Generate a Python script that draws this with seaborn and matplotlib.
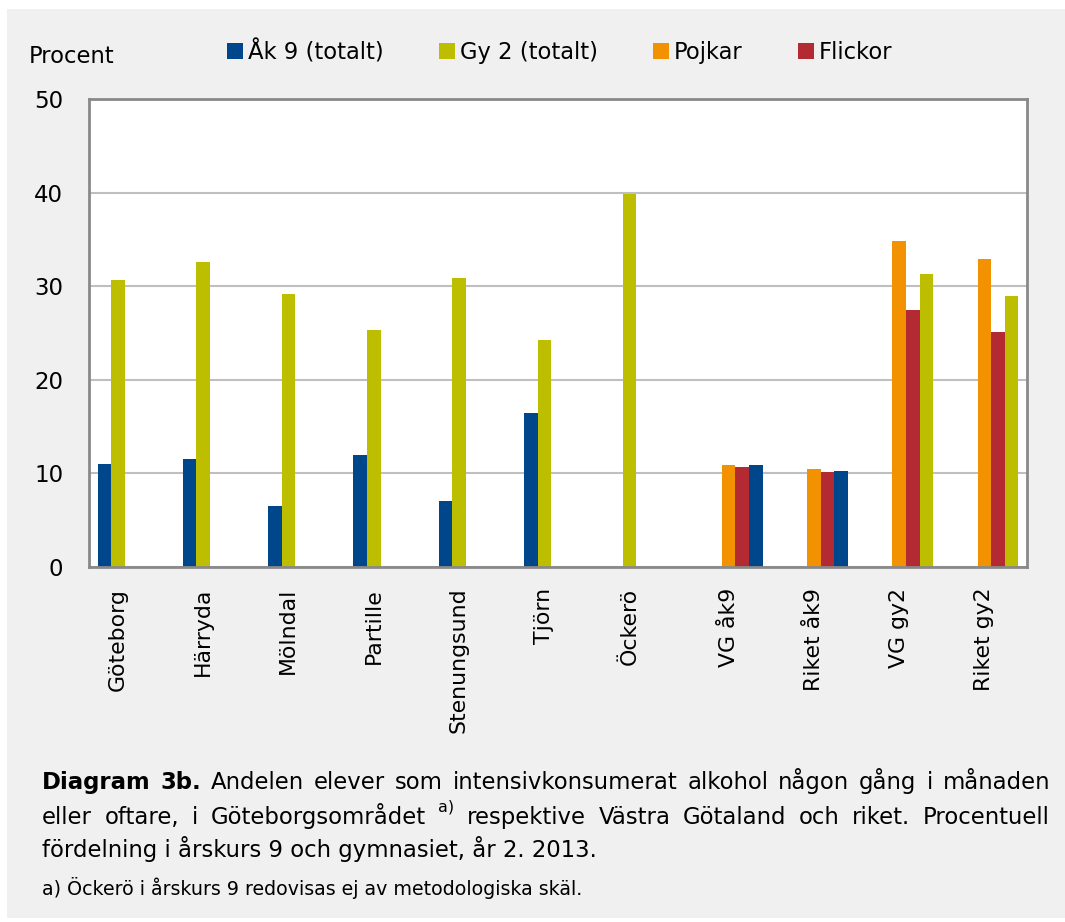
import numpy as np
import pandas as pd
import seaborn as sns
import matplotlib
matplotlib.use("Agg")
import matplotlib.pyplot as plt
import matplotlib.transforms as mtrans
from matplotlib.patches import Patch, Rectangle

# ---------------- data ----------------
categories = ["Göteborg", "Härryda", "Mölndal", "Partille", "Stenungsund", "Tjörn",
              "Öckerö", "VG åk9", "Riket åk9", "VG gy2", "Riket gy2"]
nan = np.nan
ak9_totalt = [11.0, 11.5, 6.5, 12.0, 7.1, 16.4, nan, nan, nan, nan, nan]
gy2_totalt = [30.7, 32.6, 29.2, 25.3, 30.9, 24.2, 39.9, nan, nan, nan, nan]
pojkar = [nan, nan, nan, nan, nan, nan, nan, 10.9, 10.5, 34.8, 32.9]
flickor = [nan, nan, nan, nan, nan, nan, nan, 10.7, 10.1, 27.5, 25.1]
region_totalt = [nan, nan, nan, nan, nan, nan, nan, 10.9, 10.3, 31.3, 29.0]

series_names = ["Åk 9 (totalt)", "Gy 2 (totalt)", "Pojkar", "Flickor", "Totalt"]
legend_labels = ["Åk 9 (totalt)", "Gy 2 (totalt)", "Pojkar", "Flickor"]
y_ticks = [0, 10, 20, 30, 40, 50]

BLUE = "#00468A"
OLIVE = "#BEBE00"
ORANGE = "#F39200"
RED = "#B32A32"
palette = {"Åk 9 (totalt)": BLUE, "Gy 2 (totalt)": OLIVE, "Pojkar": ORANGE,
           "Flickor": RED, "Totalt": BLUE}

rows = []
for name, vals in zip(series_names, [ak9_totalt, gy2_totalt, pojkar, flickor, region_totalt]):
    for c, v in zip(categories, vals):
        if not np.isnan(v):
            rows.append({"Område": c, "Serie": name, "Procent": v})
df = pd.DataFrame(rows)

# ---------------- figure ----------------
sns.set_style("white")
plt.rcParams["font.family"] = ["DejaVu Sans"]
plt.rcParams["text.color"] = "black"
plt.rcParams["xtick.color"] = "black"
plt.rcParams["ytick.color"] = "black"
plt.rcParams["axes.labelcolor"] = "black"

W, H = 1065, 922
fig = plt.figure(figsize=(W / 100, H / 100), dpi=100, facecolor="white")
fig.add_artist(Rectangle((7 / W, 1 - 918 / H), 1, (918 - 9) / H, transform=fig.transFigure,
                         facecolor="#F0F0F0", edgecolor="none", zorder=-10))

ax = fig.add_axes([89 / W, 1 - 567 / H, (1027 - 89) / W, (567 - 99) / H])
sns.barplot(data=df, x="Område", y="Procent", hue="Serie", order=categories,
            hue_order=series_names, palette=palette, width=0.8, gap=0,
            saturation=1, legend=False, ax=ax, linewidth=0, errorbar=None)

# regional totals for gymnasiet drawn in the Gy 2 colour
for bar in ax.patches:
    cx = bar.get_x() + bar.get_width() / 2
    idx = int(round(cx))
    if cx - idx > 0.25 and 0 <= idx < len(categories) and categories[idx].endswith("gy2"):
        bar.set_facecolor(OLIVE)

ax.set_facecolor("white")
ax.set_ylim(0, 50)
ax.set_xlim(-0.5, len(categories) - 0.5)
ax.set_yticks(y_ticks)
ax.set_yticklabels([str(t) for t in y_ticks], fontsize=16.5, color="black")
ax.set_xlabel("")
ax.set_ylabel("")
ax.yaxis.grid(True, color="#BFBFBF", linewidth=1.5)
ax.xaxis.grid(False)
ax.set_axisbelow(True)
for sp in ax.spines.values():
    sp.set_visible(True)
    sp.set_color("#898989")
    sp.set_linewidth(2)
ax.tick_params(axis="y", length=0, pad=18.5, labelcolor="black")
ax.tick_params(axis="x", length=0, pad=15, labelcolor="black")
ax.set_xticks(range(len(categories)))
ax.set_xticklabels(categories, rotation=90, fontsize=15.8, color="black")

shift = mtrans.ScaledTranslation(-0.14, 0, fig.dpi_scale_trans)
for i, lab in enumerate(ax.get_xticklabels()):
    if i < 7:
        lab.set_transform(lab.get_transform() + shift)

# y title
fig.text(29 / W, 1 - 63 / H, "Procent", fontsize=16.3, va="baseline", ha="left", color="black")

# legend
handles = [Patch(facecolor=palette[n], edgecolor="none") for n in legend_labels]
leg = fig.legend(handles, legend_labels, loc="center left", bbox_to_anchor=(227 / W, 1 - 52 / H),
                 ncol=4, frameon=False, fontsize=16.3, handlelength=0.7, handleheight=0.7,
                 handletextpad=0.22, columnspacing=2.45, borderpad=0, borderaxespad=0)
for t in leg.get_texts():
    t.set_color("black")

# ---------------- caption ----------------
renderer = fig.canvas.get_renderer()
CAP = 16.4


def justified(words, x0, x1, ybase):
    texts, widths = [], []
    for w, kw in words:
        kw = dict(kw)
        dy = kw.pop("dy", 0)
        t = fig.text(0, 1 - (ybase - dy) / H, w, va="baseline", ha="left", color="black", **kw)
        texts.append(t)
        widths.append(t.get_window_extent(renderer=renderer).width)
    gap = (x1 - x0 - sum(widths)) / (len(words) - 1)
    x = x0
    for t, wd in zip(texts, widths):
        t.set_x(x / W)
        x += wd + gap


norm = {"fontsize": CAP}
bold = {"fontsize": CAP, "fontweight": "bold"}
line1 = [("Diagram", bold), ("3b.", bold)] + [(w, norm) for w in
         "Andelen elever som intensivkonsumerat alkohol någon gång i månaden".split()]
line2 = [(w, norm) for w in "eller oftare, i Göteborgsområdet".split()] + \
        [("a)", {"fontsize": 11.5, "dy": 13})] + \
        [(w, norm) for w in "respektive Västra Götaland och riket. Procentuell".split()]
justified(line1, 42, 1050, 789)
justified(line2, 42, 1050, 824)
fig.text(42 / W, 1 - 857 / H, "fördelning i årskurs 9 och gymnasiet, år 2. 2013.",
         fontsize=CAP, va="baseline", ha="left", color="black")
fig.text(42 / W, 1 - 895 / H, "a) Öckerö i årskurs 9 redovisas ej av metodologiska skäl.",
         fontsize=13.7, va="baseline", ha="left", color="black")

fig.savefig("out.png", dpi=100)
